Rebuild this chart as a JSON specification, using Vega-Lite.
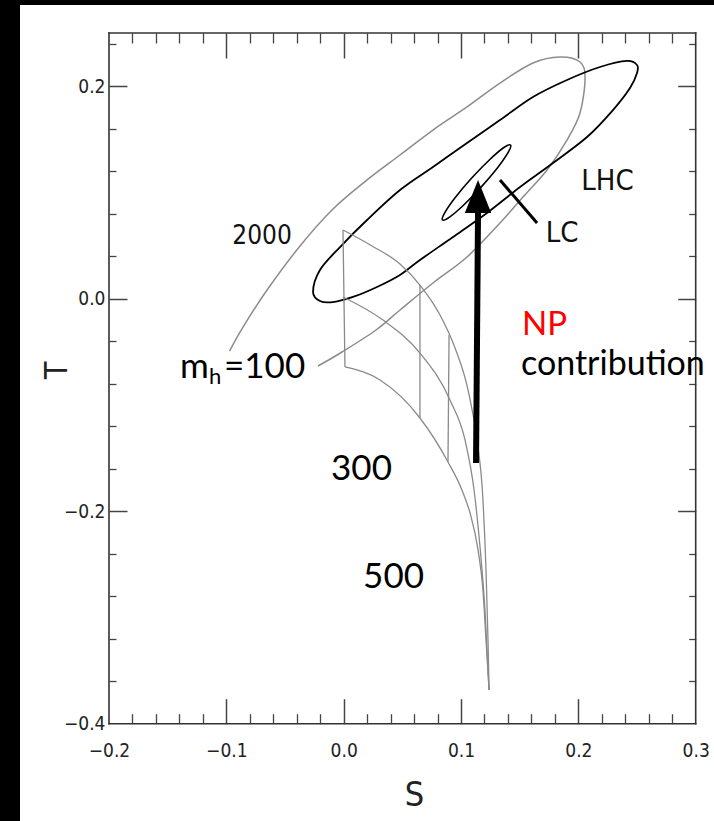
{
  "$schema": "https://vega.github.io/schema/vega-lite/v6.json",
  "width": 694,
  "height": 816,
  "autosize": "none",
  "padding": {"left": 20, "top": 5, "right": 0, "bottom": 0},
  "background": "black",
  "config": {"view": {"stroke": null, "fill": "white"}, "axis": {"grid": false}},
  "datasets": {
    "frame": [
      {"side": "left", "S": -0.2, "T": -0.4, "S2": -0.2, "T2": 0.25},
      {"side": "right", "S": 0.3, "T": -0.4, "S2": 0.3, "T2": 0.25},
      {"side": "top", "S": -0.2, "T": 0.25, "S2": 0.3, "T2": 0.25},
      {"side": "bottom", "S": -0.2, "T": -0.4, "S2": 0.3, "T2": -0.4}
    ],
    "grayEllipse": [
      {"S": -0.0973, "T": -0.0493, "ord": 2},
      {"S": -0.0858, "T": -0.0267, "ord": 3},
      {"S": -0.0653, "T": 0.0081, "ord": 4},
      {"S": -0.0372, "T": 0.0496, "ord": 5},
      {"S": -0.0091, "T": 0.0844, "ord": 6},
      {"S": 0.0199, "T": 0.1117, "ord": 7},
      {"S": 0.0480, "T": 0.1352, "ord": 8},
      {"S": 0.0761, "T": 0.1587, "ord": 9},
      {"S": 0.1051, "T": 0.1804, "ord": 10},
      {"S": 0.1332, "T": 0.2029, "ord": 11},
      {"S": 0.1613, "T": 0.2218, "ord": 12},
      {"S": 0.1844, "T": 0.2274, "ord": 13},
      {"S": 0.2014, "T": 0.2227, "ord": 14},
      {"S": 0.2057, "T": 0.2077, "ord": 15},
      {"S": 0.2014, "T": 0.1747, "ord": 16},
      {"S": 0.1903, "T": 0.1493, "ord": 17},
      {"S": 0.1733, "T": 0.1211, "ord": 18},
      {"S": 0.1528, "T": 0.0957, "ord": 19},
      {"S": 0.1332, "T": 0.0712, "ord": 20},
      {"S": 0.1051, "T": 0.0392, "ord": 21},
      {"S": 0.0761, "T": 0.0147, "ord": 22},
      {"S": 0.0480, "T": -0.0107, "ord": 23},
      {"S": 0.0276, "T": -0.0295, "ord": 24},
      {"S": -0.0014, "T": -0.0502, "ord": 25},
      {"S": -0.0219, "T": -0.0634, "ord": 26}
    ],
    "blackEllipse": [
      {"S": -0.0261, "T": 0.0063, "ord": 1},
      {"S": -0.0202, "T": 0.0270, "ord": 2},
      {"S": -0.0031, "T": 0.0486, "ord": 3},
      {"S": 0.0199, "T": 0.0740, "ord": 4},
      {"S": 0.0480, "T": 0.1022, "ord": 5},
      {"S": 0.0761, "T": 0.1239, "ord": 6},
      {"S": 0.1051, "T": 0.1465, "ord": 7},
      {"S": 0.1332, "T": 0.1681, "ord": 8},
      {"S": 0.1613, "T": 0.1898, "ord": 9},
      {"S": 0.1903, "T": 0.2058, "ord": 10},
      {"S": 0.2184, "T": 0.2180, "ord": 11},
      {"S": 0.2415, "T": 0.2237, "ord": 12},
      {"S": 0.2500, "T": 0.2199, "ord": 13},
      {"S": 0.2500, "T": 0.2124, "ord": 14},
      {"S": 0.2440, "T": 0.1982, "ord": 15},
      {"S": 0.2295, "T": 0.1775, "ord": 16},
      {"S": 0.2074, "T": 0.1521, "ord": 17},
      {"S": 0.1784, "T": 0.1277, "ord": 18},
      {"S": 0.1503, "T": 0.1051, "ord": 19},
      {"S": 0.1221, "T": 0.0806, "ord": 20},
      {"S": 0.0932, "T": 0.0580, "ord": 21},
      {"S": 0.0650, "T": 0.0364, "ord": 22},
      {"S": 0.0480, "T": 0.0223, "ord": 23},
      {"S": 0.0284, "T": 0.0110, "ord": 24},
      {"S": 0.0079, "T": 0.0016, "ord": 25},
      {"S": -0.0091, "T": -0.0032, "ord": 26},
      {"S": -0.0202, "T": -0.0022, "ord": 27}
    ],
    "lcEllipse": [
      {"S": 0.1422, "T": 0.1446, "ord": 1},
      {"S": 0.1362, "T": 0.1420, "ord": 2},
      {"S": 0.1241, "T": 0.1305, "ord": 3},
      {"S": 0.1091, "T": 0.1135, "ord": 4},
      {"S": 0.0951, "T": 0.0952, "ord": 5},
      {"S": 0.0861, "T": 0.0808, "ord": 6},
      {"S": 0.0842, "T": 0.0740, "ord": 7},
      {"S": 0.0902, "T": 0.0767, "ord": 8},
      {"S": 0.1023, "T": 0.0881, "ord": 9},
      {"S": 0.1173, "T": 0.1052, "ord": 10},
      {"S": 0.1313, "T": 0.1234, "ord": 11},
      {"S": 0.1403, "T": 0.1378, "ord": 12}
    ],
    "gridCurves": [
      {"curve": "top", "ord": 1, "S": -0.0006, "T": 0.0646},
      {"curve": "top", "ord": 2, "S": 0.0241, "T": 0.0496},
      {"curve": "top", "ord": 3, "S": 0.0480, "T": 0.0326},
      {"curve": "top", "ord": 4, "S": 0.0650, "T": 0.0128},
      {"curve": "top", "ord": 5, "S": 0.0821, "T": -0.0154},
      {"curve": "top", "ord": 6, "S": 0.0949, "T": -0.0464},
      {"curve": "top", "ord": 7, "S": 0.1060, "T": -0.0860},
      {"curve": "top", "ord": 8, "S": 0.1136, "T": -0.1330},
      {"curve": "top", "ord": 9, "S": 0.1187, "T": -0.1895},
      {"curve": "top", "ord": 10, "S": 0.1213, "T": -0.2554},
      {"curve": "top", "ord": 11, "S": 0.1230, "T": -0.3212},
      {"curve": "top", "ord": 12, "S": 0.1239, "T": -0.3683},
      {"curve": "mid", "ord": 1, "S": -0.0006, "T": 0.0016},
      {"curve": "mid", "ord": 2, "S": 0.0335, "T": -0.0201},
      {"curve": "mid", "ord": 3, "S": 0.0650, "T": -0.0512},
      {"curve": "mid", "ord": 4, "S": 0.0906, "T": -0.0954},
      {"curve": "mid", "ord": 5, "S": 0.1034, "T": -0.1330},
      {"curve": "mid", "ord": 6, "S": 0.1111, "T": -0.1801},
      {"curve": "mid", "ord": 7, "S": 0.1162, "T": -0.2337},
      {"curve": "mid", "ord": 8, "S": 0.1204, "T": -0.2930},
      {"curve": "mid", "ord": 9, "S": 0.1239, "T": -0.3683},
      {"curve": "bot", "ord": 1, "S": 0.0011, "T": -0.0643},
      {"curve": "bot", "ord": 2, "S": 0.0310, "T": -0.0766},
      {"curve": "bot", "ord": 3, "S": 0.0650, "T": -0.1123},
      {"curve": "bot", "ord": 4, "S": 0.0889, "T": -0.1537},
      {"curve": "bot", "ord": 5, "S": 0.1008, "T": -0.1801},
      {"curve": "bot", "ord": 6, "S": 0.1077, "T": -0.2017},
      {"curve": "bot", "ord": 7, "S": 0.1145, "T": -0.2365},
      {"curve": "bot", "ord": 8, "S": 0.1187, "T": -0.2742},
      {"curve": "bot", "ord": 9, "S": 0.1213, "T": -0.3212},
      {"curve": "bot", "ord": 10, "S": 0.1239, "T": -0.3683}
    ],
    "gridVerticals": [
      {"mh": 100, "S": -0.0006, "T": 0.0646, "S2": 0.0011, "T2": -0.0643},
      {"mh": 300, "S": 0.0650, "T": 0.0128, "S2": 0.0650, "T2": -0.1123},
      {"mh": 500, "S": 0.0898, "T": -0.0342, "S2": 0.0889, "T2": -0.1537}
    ],
    "arrowShaft": [{"S": 0.1128, "T": -0.1547, "S2": 0.1145, "T2": 0.0816}],
    "arrowHead": [{"S": 0.1145, "T": 0.0961}],
    "lcPointer": [{"S": 0.1332, "T": 0.1117, "S2": 0.1648, "T2": 0.0712}],
    "yearText": [{"S": -0.0696, "T": 0.0514, "label": "2000"}],
    "narrowText": [
      {"S": 0.2248, "T": 0.1022, "label": "LHC"},
      {"S": 0.1861, "T": 0.0533, "label": "LC"}
    ],
    "contribText": [{"S": 0.1511, "T": -0.0719, "label": "contribution"}],
    "leftText": [
      {"S": -0.1395, "T": -0.0747, "label": "m"},
      {"S": -0.1020, "T": -0.0747, "label": "=100"}
    ],
    "subText": [{"S": -0.1148, "T": -0.0803, "label": "h"}],
    "centerText": [
      {"S": 0.0152, "T": -0.1707, "label": "300"},
      {"S": 0.0425, "T": -0.2723, "label": "500"}
    ],
    "redText": [{"S": 0.1520, "T": -0.0342, "label": "NP"}]
  },
  "resolve": {"axis": {"x": "independent", "y": "independent"}},
  "encoding": {
    "x": {"field": "S", "type": "quantitative", "scale": {"domain": [-0.275848, 0.315596], "nice": false, "zero": false}, "axis": null},
    "y": {"field": "T", "type": "quantitative", "scale": {"domain": [-0.49157, 0.27635], "nice": false, "zero": false}, "axis": null}
  },
  "layer": [
    {
      "data": {"name": "frame"},
      "mark": {"type": "rule", "stroke": "#333333", "strokeWidth": 1.6, "strokeCap": "square"},
      "encoding": {"x2": {"field": "S2"}, "y2": {"field": "T2"}}
    },
    {
      "data": {"name": "grayEllipse"},
      "mark": {"type": "line", "interpolate": "cardinal", "stroke": "#8c8c8c", "strokeWidth": 1.5},
      "encoding": {
        "x": {"field": "S", "type": "quantitative", "scale": {"domain": [-0.275848, 0.315596], "nice": false, "zero": false},
          "axis": {"orient": "bottom", "offset": -97.3, "values": [-0.2, -0.1, 0, 0.1, 0.2, 0.3], "format": ".1f", "ticks": false, "domain": false, "labelFlush": false, "labelPadding": 18, "labelFont": "DejaVu Sans Condensed, DejaVu Sans, sans-serif", "labelFontSize": 19, "labelColor": "#222222", "title": "S", "titleFont": "DejaVu Sans Condensed, DejaVu Sans, sans-serif", "titleFontSize": 34, "titleFontWeight": "normal", "titleColor": "#222222", "titleX": 394, "titleY": 82, "titleBaseline": "alphabetic"}},
        "y": {"field": "T", "type": "quantitative", "scale": {"domain": [-0.49157, 0.27635], "nice": false, "zero": false},
          "axis": {"orient": "left", "offset": -89, "values": [-0.4, -0.2, 0, 0.2], "format": ".1f", "ticks": false, "domain": false, "labelPadding": 4, "labelFont": "DejaVu Sans Condensed, DejaVu Sans, sans-serif", "labelFontSize": 19, "labelColor": "#222222", "title": "T", "titleFont": "DejaVu Sans Condensed, DejaVu Sans, sans-serif", "titleFontSize": 32, "titleFontWeight": "normal", "titleColor": "#222222", "titleAngle": 270, "titleX": -43, "titleY": 365, "titleBaseline": "alphabetic"}},
        "order": {"field": "ord", "type": "quantitative"}
      }
    },
    {
      "data": {"name": "blackEllipse"},
      "mark": {"type": "line", "interpolate": "cardinal-closed", "stroke": "#000000", "strokeWidth": 1.8},
      "encoding": {
        "x": {"field": "S", "type": "quantitative", "scale": {"domain": [-0.275848, 0.315596], "nice": false, "zero": false},
          "axis": {"orient": "bottom", "offset": -122.3, "values": [-0.1, 0, 0.1, 0.2], "labels": false, "domain": false, "ticks": true, "tickSize": 25, "tickColor": "#444444", "tickWidth": 1.5, "title": null}},
        "y": {"field": "T", "type": "quantitative", "scale": {"domain": [-0.49157, 0.27635], "nice": false, "zero": false},
          "axis": {"orient": "left", "offset": -107, "values": [-0.2, 0, 0.2], "labels": false, "domain": false, "ticks": true, "tickSize": 18, "tickColor": "#444444", "tickWidth": 1.5, "title": null}},
        "order": {"field": "ord", "type": "quantitative"}
      }
    },
    {
      "data": {"name": "lcEllipse"},
      "mark": {"type": "line", "interpolate": "cardinal-closed", "stroke": "#000000", "strokeWidth": 1.6},
      "encoding": {
        "x": {"field": "S", "type": "quantitative", "scale": {"domain": [-0.275848, 0.315596], "nice": false, "zero": false},
          "axis": {"orient": "bottom", "offset": -107.3, "values": [-0.18, -0.16, -0.14, -0.12, -0.08, -0.06, -0.04, -0.02, 0.02, 0.04, 0.06, 0.08, 0.12, 0.14, 0.16, 0.18, 0.22, 0.24, 0.26, 0.28], "labels": false, "domain": false, "ticks": true, "tickSize": 10, "tickColor": "#444444", "tickWidth": 1.3, "title": null}},
        "y": {"field": "T", "type": "quantitative", "scale": {"domain": [-0.49157, 0.27635], "nice": false, "zero": false},
          "axis": {"orient": "left", "offset": -96, "values": [-0.36, -0.32, -0.28, -0.24, -0.16, -0.12, -0.08, -0.04, 0.04, 0.08, 0.12, 0.16, 0.24], "labels": false, "domain": false, "ticks": true, "tickSize": 7, "tickColor": "#444444", "tickWidth": 1.3, "title": null}},
        "order": {"field": "ord", "type": "quantitative"}
      }
    },
    {
      "data": {"name": "gridCurves"},
      "mark": {"type": "line", "interpolate": "monotone", "stroke": "#8a8a8a", "strokeWidth": 1.3},
      "encoding": {
        "x": {"field": "S", "type": "quantitative", "scale": {"domain": [-0.275848, 0.315596], "nice": false, "zero": false},
          "axis": {"orient": "top", "offset": -53, "values": [-0.1, 0, 0.1, 0.2], "labels": false, "domain": false, "ticks": true, "tickSize": 25, "tickColor": "#444444", "tickWidth": 1.5, "title": null}},
        "y": {"field": "T", "type": "quantitative", "scale": {"domain": [-0.49157, 0.27635], "nice": false, "zero": false},
          "axis": {"orient": "right", "offset": -36.3, "values": [-0.2, 0, 0.2], "labels": false, "domain": false, "ticks": true, "tickSize": 18, "tickColor": "#444444", "tickWidth": 1.5, "title": null}},
        "detail": {"field": "curve", "type": "nominal"},
        "order": {"field": "ord", "type": "quantitative"}
      }
    },
    {
      "data": {"name": "gridVerticals"},
      "mark": {"type": "rule", "stroke": "#8a8a8a", "strokeWidth": 1.3},
      "encoding": {
        "x": {"field": "S", "type": "quantitative", "scale": {"domain": [-0.275848, 0.315596], "nice": false, "zero": false},
          "axis": {"orient": "top", "offset": -38, "values": [-0.18, -0.16, -0.14, -0.12, -0.08, -0.06, -0.04, -0.02, 0.02, 0.04, 0.06, 0.08, 0.12, 0.14, 0.16, 0.18, 0.22, 0.24, 0.26, 0.28], "labels": false, "domain": false, "ticks": true, "tickSize": 10, "tickColor": "#444444", "tickWidth": 1.3, "title": null}},
        "y": {"field": "T", "type": "quantitative", "scale": {"domain": [-0.49157, 0.27635], "nice": false, "zero": false},
          "axis": {"orient": "right", "offset": -25.3, "values": [-0.36, -0.32, -0.28, -0.24, -0.16, -0.12, -0.08, -0.04, 0.04, 0.08, 0.12, 0.16, 0.24], "labels": false, "domain": false, "ticks": true, "tickSize": 7, "tickColor": "#444444", "tickWidth": 1.3, "title": null}},
        "x2": {"field": "S2"},
        "y2": {"field": "T2"}
      }
    },
    {
      "data": {"name": "arrowShaft"},
      "mark": {"type": "rule", "stroke": "#000000", "strokeWidth": 6, "strokeCap": "butt"},
      "encoding": {"x2": {"field": "S2"}, "y2": {"field": "T2"}}
    },
    {
      "data": {"name": "arrowHead"},
      "mark": {"type": "point", "shape": "M0,-1L0.8,1L-0.8,1Z", "size": 1089, "filled": true, "fill": "#000000", "opacity": 1, "strokeWidth": 0}
    },
    {
      "data": {"name": "lcPointer"},
      "mark": {"type": "rule", "stroke": "#000000", "strokeWidth": 3},
      "encoding": {"x2": {"field": "S2"}, "y2": {"field": "T2"}}
    },
    {
      "data": {"name": "yearText"},
      "mark": {"type": "text", "font": "DejaVu Sans Condensed, DejaVu Sans, sans-serif", "fontSize": 26, "align": "center", "baseline": "alphabetic", "color": "#111111"},
      "encoding": {"text": {"field": "label"}}
    },
    {
      "data": {"name": "narrowText"},
      "mark": {"type": "text", "font": "DejaVu Sans Condensed, DejaVu Sans, sans-serif", "fontSize": 29, "align": "center", "baseline": "alphabetic", "color": "#111111"},
      "encoding": {"text": {"field": "label"}}
    },
    {
      "data": {"name": "contribText"},
      "mark": {"type": "text", "font": "Lato", "fontSize": 34, "align": "left", "baseline": "alphabetic", "color": "#000000"},
      "encoding": {"text": {"field": "label"}}
    },
    {
      "data": {"name": "leftText"},
      "mark": {"type": "text", "font": "Lato", "fontSize": 35, "align": "left", "baseline": "alphabetic", "color": "#000000"},
      "encoding": {"text": {"field": "label"}}
    },
    {
      "data": {"name": "subText"},
      "mark": {"type": "text", "font": "Lato", "fontSize": 22, "align": "left", "baseline": "alphabetic", "color": "#000000"},
      "encoding": {"text": {"field": "label"}}
    },
    {
      "data": {"name": "centerText"},
      "mark": {"type": "text", "font": "Lato", "fontSize": 35, "align": "center", "baseline": "alphabetic", "color": "#000000"},
      "encoding": {"text": {"field": "label"}}
    },
    {
      "data": {"name": "redText"},
      "mark": {"type": "text", "font": "Lato", "fontSize": 33, "align": "left", "baseline": "alphabetic", "color": "#ff0000"},
      "encoding": {"text": {"field": "label"}}
    }
  ]
}
